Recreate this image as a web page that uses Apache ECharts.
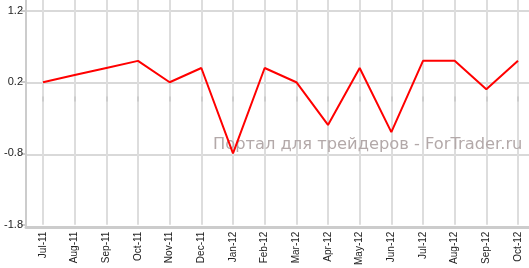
<!DOCTYPE html>
<html><head><meta charset="utf-8">
<script src="https://cdn.jsdelivr.net/npm/echarts@6/dist/echarts.min.js"></script>
<style>html,body{margin:0;padding:0;background:#fff;}#c{width:529px;height:268px;}</style>
</head><body><div id="c"></div>
<script>
const categories = ['Jul-11','Aug-11','Sep-11','Oct-11','Nov-11','Dec-11','Jan-12','Feb-12','Mar-12','Apr-12','May-12','Jun-12','Jul-12','Aug-12','Sep-12','Oct-12'];
const values = [0.2, 0.3, 0.4, 0.5, 0.2, 0.4, -0.8, 0.4, 0.2, -0.4, 0.4, -0.5, 0.5, 0.5, 0.1, 0.5];
const yMin = -1.8, yMax = 1.2, yStep = 1;
const watermark = 'Портал для трейдеров - ForTrader.ru';

const chart = echarts.init(document.getElementById('c'), null, {renderer:'canvas'});
const hidden = {show:false};
chart.setOption({
  animation:false,
  backgroundColor:'#fff',
  grid:[
    {left:43, right:11, top:11, bottom:41},
    {left:26, right:0, top:0, bottom:41},
    {left:26, right:0, top:11, bottom:41}
  ],
  xAxis:[
    {type:'category', gridIndex:0, data:categories, boundaryGap:false, position:'bottom',
     axisLine:hidden, axisTick:{show:true, length:5, lineStyle:{color:'#ccc', width:2}},
     axisLabel:{rotate:90, margin:7, fontSize:10, fontFamily:'Liberation Sans', color:'#222', interval:0},
     splitLine:{show:true, interval:0, lineStyle:{color:'#ddd', width:2}}, z:1},
    {type:'category', gridIndex:0, data:categories, boundaryGap:false, position:'top',
     axisLine:hidden, axisTick:{show:true, length:11, interval:0, lineStyle:{color:'#ddd', width:2}},
     axisLabel:hidden, splitLine:hidden},
    {type:'value', gridIndex:1, min:0, max:1, axisLine:{show:true, onZero:false, lineStyle:{color:'#ccc', width:3}},
     axisTick:hidden, axisLabel:hidden, splitLine:hidden, z:5},
    {type:'value', gridIndex:2, min:0, max:1, show:false}
  ],
  yAxis:[
    {type:'value', gridIndex:0, min:yMin, max:yMax, interval:yStep, offset:17,
     axisLine:hidden, axisTick:{show:true, length:5, lineStyle:{color:'#ccc', width:2}},
     axisLabel:{margin:3, fontSize:11, fontFamily:'Liberation Sans', color:'#222', formatter:v=>v.toFixed(1)},
     splitLine:hidden},
    {type:'value', gridIndex:1, min:0, max:1, axisLine:{show:true, onZero:false, lineStyle:{color:'#ccc', width:2}},
     axisTick:hidden, axisLabel:hidden, splitLine:hidden, z:5},
    {type:'value', gridIndex:2, min:yMin, max:yMax, interval:yStep,
     axisLine:hidden, axisTick:hidden, axisLabel:hidden,
     splitLine:{show:true, lineStyle:{color:'#ccc', width:1.5}}}
  ],
  graphic:[
    {type:'text', left:213, top:137, z:4, style:{text:watermark, fill:'#b3a9a9', font:'16.3px "DejaVu Sans"'}}
  ],
  series:[
    {type:'line', xAxisIndex:0, yAxisIndex:0, data:values, showSymbol:false, symbol:'none',
     lineStyle:{color:'#ff0000', width:2}, z:10}
  ]
});
</script></body></html>
